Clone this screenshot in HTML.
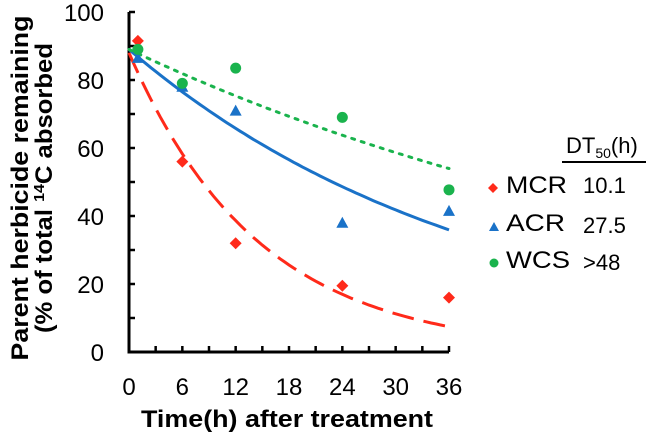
<!DOCTYPE html>
<html><head><meta charset="utf-8"><style>
html,body{margin:0;padding:0;background:#fff;width:650px;height:436px;overflow:hidden}
svg{font-family:"Liberation Sans",Arial,sans-serif}
</style></head><body>
<svg id="chart" width="650" height="436" viewBox="0 0 650 436">
<g id="axes"></g><g id="lines"></g><g id="marks"></g>
<g font-weight="bold" font-size="24" text-anchor="middle">
<text transform="translate(28,188) rotate(-90)" textLength="345" lengthAdjust="spacingAndGlyphs">Parent herbicide remaining</text>
<text transform="translate(52,188) rotate(-90)" textLength="290" lengthAdjust="spacingAndGlyphs">(% of total <tspan font-size="15" dy="-8">14</tspan><tspan dy="8">C absorbed</tspan></text>
</g>
<text x="287" y="427" font-weight="bold" font-size="24" text-anchor="middle" textLength="292" lengthAdjust="spacingAndGlyphs">Time(h) after treatment</text>
<g font-size="24">
<text x="566" y="153" font-size="22">DT<tspan font-size="14" dy="5">50</tspan><tspan dy="-5">(h)</tspan></text>
<line x1="562" y1="162" x2="646" y2="162" stroke="#000" stroke-width="2"/>
<g><path d="M493,183 L498,188 L493,193 L488,188Z" fill="#ff2a1a"/><text x="506" y="193" textLength="61" lengthAdjust="spacingAndGlyphs">MCR</text><text x="583" y="193" font-size="22">10.1</text></g>
<g><path d="M494,222 L499,231 L489,231Z" fill="#1a72c8"/><text x="506" y="231" textLength="59" lengthAdjust="spacingAndGlyphs">ACR</text><text x="583" y="233" font-size="22">27.5</text></g>
<g><circle cx="494" cy="263" r="4.5" fill="#1ab34d"/><text x="506" y="268" textLength="64" lengthAdjust="spacingAndGlyphs">WCS</text><text x="583" y="270" font-size="22">&gt;48</text></g>
</g>
</svg>
<script>
const times=[1,6,12,24,36];
const mcrVals=[91.5,56,32,19.5,16];
const acrVals=[86.5,78,71,38,41.5];
const wcsVals=[89,79,83.5,69,47.7];
const fitC0=[88,89,89];
const fitK=[0.0686,0.0252,0.0139];
const xTicks=[0,6,12,18,24,30,36];
const yTicks=[0,20,40,60,80,100];
const NS="http://www.w3.org/2000/svg";
const X=t=>129+t*(320/36), Y=v=>352-v*3.4;
function mk(tag,attrs,parent){const e=document.createElementNS(NS,tag);for(const k in attrs)e.setAttribute(k,attrs[k]);parent.appendChild(e);return e;}
const ax=document.getElementById('axes');
let a=mk('path',{d:`M${X(0)},${Y(100)}V${Y(0)}H${X(36)}`,fill:'none',stroke:'#000','stroke-width':3},ax);


for(let v=0;v<=100;v+=10){mk('line',{x1:X(0),x2:X(0)+6,y1:Y(v),y2:Y(v),stroke:'#000','stroke-width':2.5},ax);}
for(let t=0;t<=36;t+=3){mk('line',{x1:X(t),x2:X(t),y1:Y(0),y2:Y(0)-6,stroke:'#000','stroke-width':2.5},ax);}
yTicks.forEach(v=>{const e=mk('text',{x:104,y:Y(v)+9,'text-anchor':'end','font-size':24},ax);e.textContent=v;

});
xTicks.forEach(t=>{const e=mk('text',{x:X(t),y:395,'text-anchor':'middle','font-size':24},ax);e.textContent=t;

});
const colors=['#ff2a1a','#1a72c8','#1ab34d'];
const dashes=['22,10','none','3,7'];
const names=['mcr','acr','wcs'];
const ln=document.getElementById('lines');
for(let s=0;s<3;s++){let d='';for(let t=0;t<=36;t+=0.5){d+=(t?'L':'M')+X(t).toFixed(1)+','+Y(fitC0[s]*Math.exp(-fitK[s]*t)).toFixed(1);}
const p=mk('path',{d:d,fill:'none',stroke:colors[s],'stroke-width':3,'stroke-dasharray':dashes[s],'stroke-linecap':s==2?'round':'butt'},ln);

}
const mg=document.getElementById('marks');
times.forEach((t,i)=>{const x=X(t);
let y=Y(mcrVals[i]);let e=mk('path',{d:`M${x},${y-6}L${x+6},${y}L${x},${y+6}L${x-6},${y}Z`,fill:colors[0]},mg);


y=Y(acrVals[i]);e=mk('path',{d:`M${x},${y-6}L${x+6},${y+5}L${x-6},${y+5}Z`,fill:colors[1]},mg);


y=Y(wcsVals[i]);e=mk('circle',{cx:x,cy:y,r:5.5,fill:colors[2]},mg);

});
</script>
</body></html>
